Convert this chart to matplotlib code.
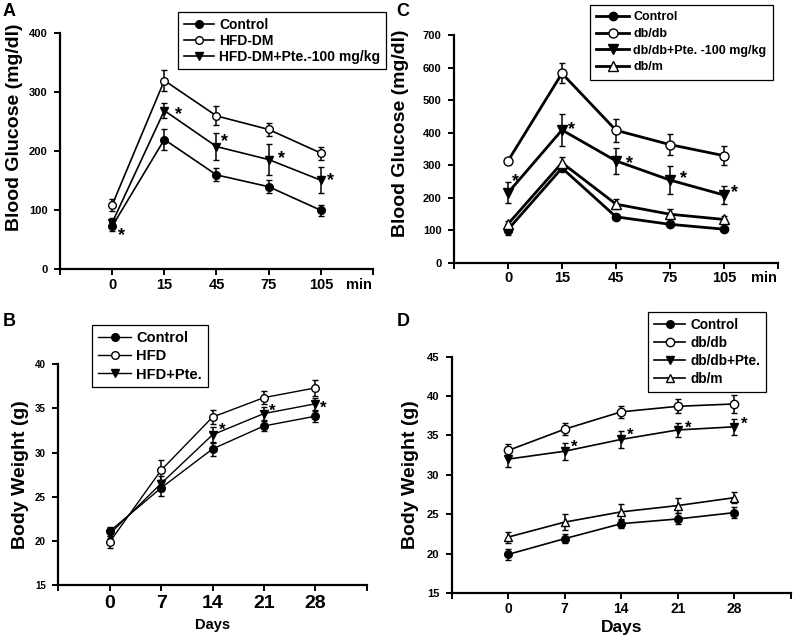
import matplotlib

matplotlib.use("Agg")
import matplotlib.pyplot as plt

plt.rcParams["font.family"] = ["Liberation Sans", "DejaVu Sans"]
plt.rcParams["font.weight"] = "bold"

W, H = 793, 639

# ---- data ----
pos = [1, 2, 3, 4, 5]

# A: glucose tolerance, HFD model
a_ticks = ["0", "15", "45", "75", "105"]
a_control = [73, 220, 160, 140, 100]
a_control_err = [8, 17, 11, 11, 9]
a_hfd = [109, 320, 260, 237, 197]
a_hfd_err = [10, 17, 16, 11, 11]
a_pte = [79, 269, 208, 186, 151]
a_pte_err = [8, 13, 23, 27, 22]
a_star_x = [1.18, 2.27, 3.16, 4.25, 5.18]
a_star_y = [67, 272, 227, 198, 161]

# C: glucose tolerance, db/db model
c_ticks = ["0", "15", "45", "75", "105"]
c_control = [102, 291, 141, 118, 103]
c_control_err = [18, 10, 6, 6, 5]
c_dbdb = [313, 582, 407, 363, 329]
c_dbdb_err = [10, 31, 36, 32, 30]
c_pte = [215, 408, 313, 254, 208]
c_pte_err = [32, 48, 40, 44, 29]
c_dbm = [119, 307, 180, 149, 133]
c_dbm_err = [8, 17, 15, 15, 10]
c_star_x = [1.13, 2.18, 3.25, 4.25, 5.2]
c_star_y = [266, 428, 321, 275, 234]

# B: body weight, HFD model
b_ticks = ["0", "7", "14", "21", "28"]
b_control = [21.1, 26.0, 30.4, 33.0, 34.1]
b_control_err = [0.5, 0.9, 0.8, 0.6, 0.6]
b_hfd = [19.9, 28.0, 34.0, 36.2, 37.3]
b_hfd_err = [0.7, 1.1, 0.8, 0.7, 0.9]
b_pte = [20.8, 26.5, 32.0, 34.4, 35.5]
b_pte_err = [0.5, 0.9, 0.9, 0.7, 0.7]
b_star_x = [3.18, 4.17, 5.16]
b_star_y = [33.1, 35.2, 35.6]

# D: body weight, db/db model
d_ticks = ["0", "7", "14", "21", "28"]
d_control = [19.9, 21.9, 23.8, 24.4, 25.2]
d_control_err = [0.7, 0.6, 0.6, 0.7, 0.7]
d_dbdb = [33.1, 35.8, 38.0, 38.7, 39.0]
d_dbdb_err = [0.8, 0.8, 0.8, 0.9, 1.1]
d_pte = [32.0, 33.0, 34.5, 35.7, 36.1]
d_pte_err = [1.0, 1.1, 1.1, 0.9, 1.0]
d_dbm = [22.1, 24.0, 25.3, 26.1, 27.1]
d_dbm_err = [0.7, 1.0, 1.0, 0.9, 0.7]
d_star_x = [2.16, 3.16, 4.19, 5.18]
d_star_y = [34.2, 35.6, 36.6, 37.0]


def px_axes(fig, left, top, right, bottom):
    return fig.add_axes([left / W, 1 - bottom / H, (right - left) / W, (bottom - top) / H])


def series(ax, y, err, marker, filled, lw, ms, label):
    face = "black" if filled else "white"
    ax.errorbar(pos, y, yerr=err, color="black", lw=lw, marker=marker, ms=ms,
                mfc=face, mec="black", mew=1.0, elinewidth=1.1, capsize=2.5,
                capthick=1.1, label=label, zorder=3 if filled else 4)


def style(ax, ylim, yticks, xticklabels, xfs, yfs, xpad=2.0):
    ax.set_xlim(0, 6)
    ax.set_ylim(*ylim)
    ax.set_yticks(yticks)
    ax.set_xticks(range(7))
    ax.set_xticklabels([""] + xticklabels + [""], fontsize=xfs, fontweight="bold")
    ax.tick_params(axis="y", labelsize=yfs, length=4.5, width=1.4, pad=4.5)
    ax.tick_params(axis="x", length=4, width=1.4, pad=xpad)
    for s in ("top", "right"):
        ax.spines[s].set_visible(False)
    for s in ("left", "bottom"):
        ax.spines[s].set_linewidth(1.6)
    for lab in ax.get_yticklabels():
        lab.set_fontweight("bold")


def stars(ax, xs, ys, fs=13):
    for x, y in zip(xs, ys):
        ax.annotate("*", (x, y), xytext=(0, -0.57 * fs), textcoords="offset points",
                    ha="center", va="baseline", fontsize=fs, fontweight="bold")


def unit_label(ax, x, fs, off):
    # "min" sits on the tick-label row, to the right of the last tick
    ax.annotate("min", (x, 0), xycoords=ax.get_xaxis_transform(), xytext=(0, -off),
                textcoords="offset points", ha="center", va="top", fontsize=fs,
                fontweight="bold")


def legend(ax, x, y, fs, hl=2.3, spacing=0.15, bpad=0.35):
    handles, labels = ax.get_legend_handles_labels()
    # only the line+marker part of each errorbar goes into the legend
    handles = [h[0] for h in handles]
    leg = ax.legend(handles, labels, loc="upper left", bbox_to_anchor=(x / W, 1 - y / H),
                    bbox_transform=fig.transFigure, borderaxespad=0, fontsize=fs,
                    fancybox=False, edgecolor="black", framealpha=1,
                    handlelength=hl, handletextpad=0.35, labelspacing=spacing,
                    borderpad=bpad)
    leg.get_frame().set_linewidth(0.9)
    for t in leg.get_texts():
        t.set_fontweight("bold")


fig = plt.figure(figsize=(W / 100, H / 100), dpi=100)

# ---- A ----
ax = px_axes(fig, 60, 33.3, 373, 269.3)
series(ax, a_control, a_control_err, "o", True, 1.2, 5.5, "Control")
series(ax, a_hfd, a_hfd_err, "o", False, 1.2, 5.5, "HFD-DM")
series(ax, a_pte, a_pte_err, "v", True, 1.2, 6, "HFD-DM+Pte.-100 mg/kg")
style(ax, (0, 400), range(0, 401, 100), a_ticks, 10.5, 8)
stars(ax, a_star_x, a_star_y)
unit_label(ax, 5.73, 10.5, 6)
ax.set_ylabel("Blood Glucose (mg/dl)", fontsize=14, fontweight="bold")
ax.yaxis.set_label_coords(-0.117, 0.6)
legend(ax, 178, 12, 10, hl=2.2, spacing=0.15, bpad=0.4)

# ---- C ----
ax = px_axes(fig, 454, 35, 778, 262.7)
series(ax, c_control, c_control_err, "o", True, 2.0, 6, "Control")
series(ax, c_dbdb, c_dbdb_err, "o", False, 2.0, 6.5, "db/db")
series(ax, c_pte, c_pte_err, "v", True, 2.0, 6.5, "db/db+Pte. -100 mg/kg")
series(ax, c_dbm, c_dbm_err, "^", False, 2.0, 6.5, "db/m")
style(ax, (0, 700), range(0, 701, 100), c_ticks, 10.5, 8)
stars(ax, c_star_x, c_star_y)
unit_label(ax, 5.74, 10.5, 6)
ax.set_ylabel("Blood Glucose (mg/dl)", fontsize=14, fontweight="bold")
ax.yaxis.set_label_coords(-0.139, 0.57)
legend(ax, 590, 5, 9, hl=2.6, spacing=0.38, bpad=0.5)

# ---- B ----
ax = px_axes(fig, 58.3, 364, 366.7, 585.3)
series(ax, b_control, b_control_err, "o", True, 1.0, 5.5, "Control")
series(ax, b_hfd, b_hfd_err, "o", False, 1.0, 5.5, "HFD")
series(ax, b_pte, b_pte_err, "v", True, 1.0, 6, "HFD+Pte.")
style(ax, (15, 40), range(15, 41, 5), b_ticks, 14, 7, xpad=3.0)
stars(ax, b_star_x, b_star_y, 12)
ax.set_xlabel("Days", fontsize=10.5, fontweight="bold", labelpad=4)
ax.set_ylabel("Body Weight (g)", fontsize=14, fontweight="bold")
ax.yaxis.set_label_coords(-0.095, 0.5)
legend(ax, 92, 325, 10.5, spacing=0.3, bpad=0.4)

# ---- D ----
ax = px_axes(fig, 451.7, 356.7, 790.7, 593)
series(ax, d_control, d_control_err, "o", True, 1.2, 5.5, "Control")
series(ax, d_dbdb, d_dbdb_err, "o", False, 1.2, 6, "db/db")
series(ax, d_pte, d_pte_err, "v", True, 1.2, 6, "db/db+Pte.")
series(ax, d_dbm, d_dbm_err, "^", False, 1.2, 6, "db/m")
style(ax, (15, 45), range(15, 46, 5), d_ticks, 10, 8, xpad=2.5)
stars(ax, d_star_x, d_star_y, 12)
ax.set_xlabel("Days", fontsize=12.5, fontweight="bold", labelpad=3)
ax.set_ylabel("Body Weight (g)", fontsize=14, fontweight="bold")
ax.yaxis.set_label_coords(-0.096, 0.5)
legend(ax, 648, 312, 9.8, spacing=0.28, bpad=0.45)

# panel letters
for letter, x, y in [("A", 3, 3), ("C", 396, 3), ("B", 3, 313), ("D", 397, 313)]:
    fig.text(x / W, 1 - y / H, letter, ha="left", va="top", fontsize=13, fontweight="bold")

fig.savefig("out.png", dpi=100)
